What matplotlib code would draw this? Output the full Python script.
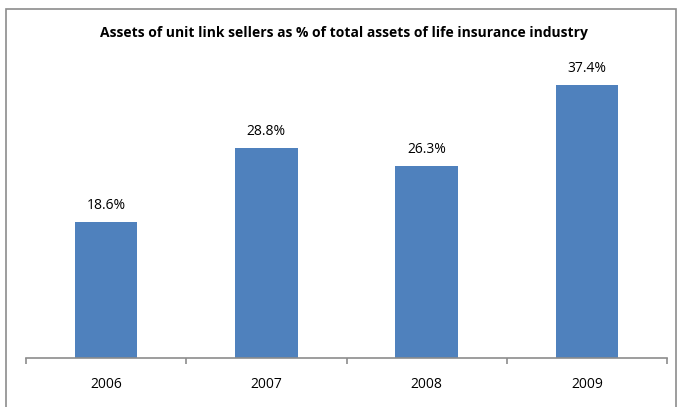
import matplotlib.pyplot as plt
from matplotlib.patches import Rectangle

years = ["2006", "2007", "2008", "2009"]
shares = [18.6, 28.8, 26.3, 37.4]
labels = ["18.6%", "28.8%", "26.3%", "37.4%"]

plt.rcParams['font.family'] = ['Open Sans', 'DejaVu Sans']

fig = plt.figure(figsize=(6.78, 4.07), dpi=100)
ax = fig.add_axes([26 / 678, 49 / 407, 641 / 678, 292 / 407])

# outer chart frame (runs off the bottom of the image)
fig.patches.append(Rectangle((6 / 678, -0.05), 670 / 678, 1.05 - 9 / 407,
                             transform=fig.transFigure, fill=False,
                             edgecolor='#8c8c8c', linewidth=1.2))

x = range(len(years))
bars = ax.bar(x, shares, width=0.39, color='#4F81BD')
for xi, v, lab in zip(x, shares, labels):
    ax.text(xi, v + 1.2, lab, ha='center', va='bottom', fontsize=10)

ax.set_xlim(-0.5, 3.5)
ax.set_ylim(0, 40)
ax.set_yticks([])
for s in ['top', 'right', 'left']:
    ax.spines[s].set_visible(False)
ax.spines['bottom'].set_color('#8c8c8c')
ax.spines['bottom'].set_linewidth(1.2)

ax.set_xticks([-0.5, 0.5, 1.5, 2.5, 3.5])
ax.set_xticklabels([])
ax.set_xticks(list(x), minor=True)
ax.set_xticklabels(years, minor=True, fontsize=10)
ax.tick_params(axis='x', which='major', length=4, color='#8c8c8c', width=1.2)
ax.tick_params(axis='x', which='minor', length=0, pad=14)

fig.text(0.508, 1 - 33 / 407, "Assets of unit link sellers as % of total assets of life insurance industry",
         ha='center', va='center', fontsize=10, fontweight='bold')

fig.savefig("out.png", dpi=100)
